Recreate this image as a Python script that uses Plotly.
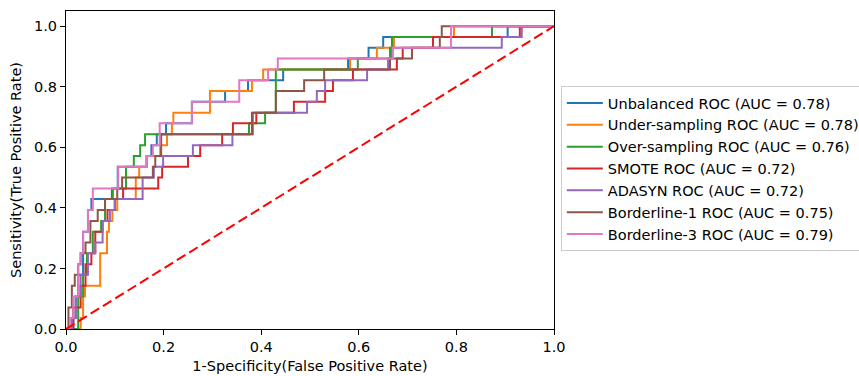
import plotly.graph_objects as go

# ---- data ----
names = [
    "Unbalanced ROC (AUC = 0.78)",
    "Under-sampling ROC (AUC = 0.78)",
    "Over-sampling ROC (AUC = 0.76)",
    "SMOTE ROC (AUC = 0.72)",
    "ADASYN ROC (AUC = 0.72)",
    "Borderline-1 ROC (AUC = 0.75)",
    "Borderline-3 ROC (AUC = 0.79)",
]

unbalanced_fpr = [0, 0.015, 0.02, 0.025, 0.035, 0.045, 0.052, 0.094, 0.106, 0.165, 0.175, 0.186, 0.205, 0.258, 0.326, 0.373, 0.445, 0.578, 0.62, 0.65, 0.905, 1.0]
unbalanced_tpr = [0, 0.036, 0.107, 0.179, 0.321, 0.393, 0.429, 0.464, 0.536, 0.571, 0.607, 0.643, 0.679, 0.75, 0.786, 0.821, 0.857, 0.893, 0.929, 0.964, 1.0, 1.0]

under_fpr = [0, 0.03, 0.035, 0.039, 0.07, 0.084, 0.088, 0.095, 0.105, 0.143, 0.15, 0.166, 0.193, 0.207, 0.217, 0.22, 0.295, 0.381, 0.404, 0.582, 0.637, 0.672, 0.795, 1.0]
under_tpr = [0, 0.036, 0.107, 0.143, 0.25, 0.321, 0.357, 0.393, 0.429, 0.5, 0.536, 0.571, 0.607, 0.643, 0.679, 0.714, 0.786, 0.821, 0.857, 0.893, 0.929, 0.964, 1.0, 1.0]

over_fpr = [0, 0.025, 0.035, 0.043, 0.055, 0.072, 0.08, 0.096, 0.123, 0.139, 0.152, 0.162, 0.375, 0.408, 0.43, 0.598, 0.664, 0.668, 0.873, 1.0]
over_tpr = [0, 0.107, 0.179, 0.25, 0.321, 0.357, 0.429, 0.464, 0.536, 0.571, 0.607, 0.643, 0.679, 0.714, 0.857, 0.893, 0.929, 0.964, 1.0, 1.0]

smote_fpr = [0, 0.015, 0.03, 0.04, 0.052, 0.06, 0.075, 0.085, 0.1, 0.117, 0.189, 0.197, 0.25, 0.275, 0.32, 0.342, 0.39, 0.467, 0.531, 0.547, 0.588, 0.678, 0.69, 0.752, 0.93, 1.0]
smote_tpr = [0, 0.071, 0.143, 0.214, 0.25, 0.321, 0.357, 0.393, 0.429, 0.464, 0.5, 0.536, 0.571, 0.607, 0.643, 0.679, 0.714, 0.75, 0.786, 0.821, 0.857, 0.893, 0.929, 0.964, 1.0, 1.0]

adasyn_fpr = [0, 0.012, 0.02, 0.03, 0.045, 0.06, 0.075, 0.09, 0.1, 0.157, 0.18, 0.199, 0.26, 0.341, 0.383, 0.494, 0.514, 0.531, 0.617, 0.66, 0.668, 0.893, 0.934, 1.0]
adasyn_tpr = [0, 0.036, 0.107, 0.179, 0.25, 0.286, 0.357, 0.393, 0.429, 0.5, 0.536, 0.571, 0.607, 0.643, 0.714, 0.75, 0.786, 0.821, 0.857, 0.893, 0.929, 0.964, 1.0, 1.0]

border1_fpr = [0, 0.005, 0.012, 0.018, 0.025, 0.03, 0.04, 0.05, 0.065, 0.08, 0.105, 0.115, 0.178, 0.183, 0.195, 0.381, 0.43, 0.488, 0.529, 0.664, 0.709, 0.766, 0.77, 1.0]
border1_tpr = [0, 0.071, 0.143, 0.179, 0.214, 0.25, 0.286, 0.357, 0.393, 0.429, 0.464, 0.5, 0.536, 0.571, 0.643, 0.714, 0.786, 0.821, 0.857, 0.893, 0.929, 0.964, 1.0, 1.0]

border3_fpr = [0, 0.008, 0.015, 0.025, 0.03, 0.035, 0.045, 0.055, 0.107, 0.165, 0.178, 0.192, 0.258, 0.355, 0.414, 0.434, 0.67, 0.789, 1.0]
border3_tpr = [0, 0.036, 0.107, 0.214, 0.25, 0.321, 0.393, 0.464, 0.536, 0.571, 0.607, 0.679, 0.75, 0.821, 0.857, 0.893, 0.929, 1.0, 1.0]

chance_x = [0, 1]
chance_y = [0, 1]

x_ticks = [0.0, 0.2, 0.4, 0.6, 0.8, 1.0]
y_ticks = [0.0, 0.2, 0.4, 0.6, 0.8, 1.0]

colors = ["#1f77b4", "#ff7f0e", "#2ca02c", "#d62728", "#9467bd", "#8c564b", "#e377c2"]

series = [
    (unbalanced_fpr, unbalanced_tpr),
    (under_fpr, under_tpr),
    (over_fpr, over_tpr),
    (smote_fpr, smote_tpr),
    (adasyn_fpr, adasyn_tpr),
    (border1_fpr, border1_tpr),
    (border3_fpr, border3_tpr),
]

FONT = "DejaVu Sans"

fig = go.Figure()
for i, ((fx, ty), nm) in enumerate(zip(series, names)):
    fig.add_trace(go.Scatter(
        x=fx, y=ty, mode="lines", name=nm,
        line=dict(color=colors[i], width=2, shape="hv"),
    ))

fig.add_trace(go.Scatter(
    x=chance_x, y=chance_y, mode="lines", showlegend=False,
    line=dict(color="#ff0000", width=2, dash="10px,4.5px"),
))

axis_common = dict(
    showgrid=False, zeroline=False,
    showline=True, linecolor="black", linewidth=1, mirror=True,
    ticks="outside", ticklen=5, tickwidth=1, tickcolor="black",
    tickfont=dict(family=FONT, size=14.5, color="black"),
    tickformat=".1f",
)

fig.update_layout(
    width=859, height=376,
    margin=dict(l=66, r=305, t=11, b=47, autoexpand=False),
    paper_bgcolor="white", plot_bgcolor="white",
    font=dict(family=FONT, size=14.5, color="black"),
    xaxis=dict(range=[0, 1], tickvals=x_ticks,
               title=dict(text="1-Specificity(False Positive Rate)", font=dict(family=FONT, size=14.5), standoff=6),
               **axis_common),
    yaxis=dict(range=[0, 1.05], tickvals=y_ticks,
               title=dict(text="Sensitivity(True Positive Rate)", font=dict(family=FONT, size=14.5), standoff=8),
               **axis_common),
    legend=dict(
        x=1.014, y=0.764, xanchor="left", yanchor="top",
        bgcolor="white", bordercolor="#cccccc", borderwidth=1,
        font=dict(family=FONT, size=14.5, color="black"),
        itemwidth=36,
    ),
    showlegend=True,
)

fig.write_html("out.html")
